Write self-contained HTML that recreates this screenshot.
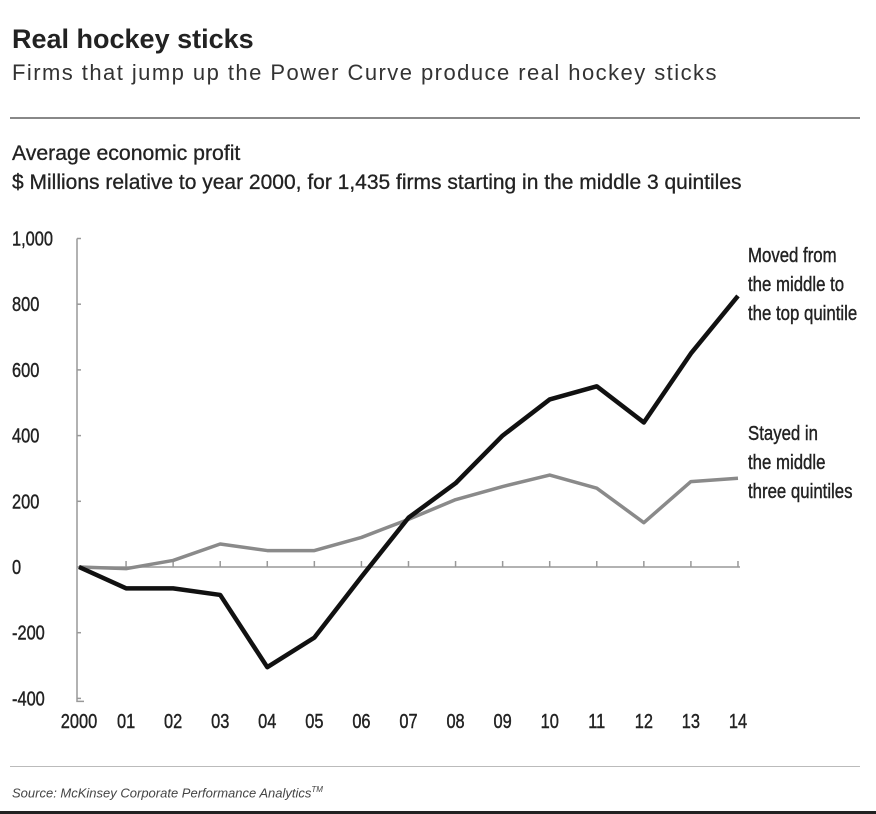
<!DOCTYPE html>
<html><head><meta charset="utf-8"><style>
html,body{margin:0;padding:0;background:#fff;width:876px;height:814px;overflow:hidden;font-family:"Liberation Sans",sans-serif;}
.t{position:absolute;white-space:nowrap;color:#222;}
</style></head><body>
<div class="t" style="left:12px;top:24px;font-size:27px;font-weight:bold;">Real hockey sticks</div>
<div class="t" style="left:12px;top:60px;font-size:22px;letter-spacing:1.45px;color:#333;">Firms that jump up the Power Curve produce real hockey sticks</div>
<div style="position:absolute;left:10px;top:117px;width:850px;height:2px;background:#888;"></div>
<div class="t" style="left:12px;top:142px;font-size:21px;transform:scaleX(1.01);transform-origin:left;-webkit-text-stroke:0.3px #222;">Average economic profit</div>
<div class="t" style="left:12px;top:171px;font-size:21px;transform:scaleX(1.0);transform-origin:left;-webkit-text-stroke:0.3px #222;">$ Millions relative to year 2000, for 1,435 firms starting in the middle 3 quintiles</div>
<svg id="c" width="876" height="814" style="position:absolute;left:0;top:0"></svg>
<div style="position:absolute;left:10px;top:766px;width:850px;height:1px;background:#bbb;"></div>
<div class="t" style="left:12px;top:785px;font-size:13px;font-style:italic;color:#444;">Source: McKinsey Corporate Performance Analytics<sup style="font-size:8px">TM</sup></div>
<div style="position:absolute;left:0;top:811px;width:876px;height:3px;background:#222;"></div>
<script>
const years=["2000","01","02","03","04","05","06","07","08","09","10","11","12","13","14"];
const movedTop=[0,-65,-65,-85,-305,-215,-30,150,255,400,510,550,440,650,825];
const stayedMid=[0,-5,20,70,50,50,90,145,205,245,280,240,135,260,270];
const yTicks=[1000,800,600,400,200,0,-200,-400];
const ns="http://www.w3.org/2000/svg";
const svg=document.getElementById('c');
const X=i=>79+i*47.07;
const Y=v=>567-v*0.3285;
function mk(tag,a){const e=document.createElementNS(ns,tag);for(const k in a)e.setAttribute(k,a[k]);svg.appendChild(e);return e;}
let ax=mk('path',{d:`M77 ${Y(1000)} V${Y(-400)+3} H84`,stroke:'#999','stroke-width':1.5,fill:'none'});


let zl=mk('line',{x1:77,x2:740,y1:Y(0),y2:Y(0),stroke:'#999','stroke-width':1.5});


yTicks.forEach(v=>{
 const t=mk('text',{transform:`translate(12,${Y(v)+7}) scale(0.82,1)`,'font-size':20,fill:'#222',stroke:'#222','stroke-width':0.4});
 t.textContent=v.toLocaleString('en-US');
 
 
 const m=mk('line',{x1:77,x2:81,y1:Y(v),y2:Y(v),stroke:'#999','stroke-width':1.5});
 
 
});
years.forEach((y,i)=>{
 if(i>0){const m=mk('line',{x1:X(i),x2:X(i),y1:Y(0),y2:Y(0)-6,stroke:'#999','stroke-width':1.5});
 
 }
 const t=mk('text',{transform:`translate(${X(i)},728) scale(0.82,1)`,'font-size':20,fill:'#222','text-anchor':'middle',stroke:'#222','stroke-width':0.4});
 t.textContent=y;
 
 
});
const g=mk('polyline',{points:stayedMid.map((v,i)=>X(i)+','+Y(v)).join(' '),stroke:'#8a8a8a','stroke-width':3.5,fill:'none','stroke-linejoin':'round'});


const b=mk('polyline',{points:movedTop.map((v,i)=>X(i)+','+Y(v)).join(' '),stroke:'#111','stroke-width':4.5,fill:'none','stroke-linejoin':'round'});


function lab(lines,y0,name){lines.forEach((s,k)=>{const t=mk('text',{transform:`translate(748,${y0+k*29}) scale(0.84,1)`,'font-size':20,fill:'#222',stroke:'#222','stroke-width':0.4});t.textContent=s;
 
 });}
lab(["Moved from","the middle to","the top quintile"],262,'label-moved-top');
lab(["Stayed in","the middle","three quintiles"],440,'label-stayed-middle');
</script>
</body></html>
